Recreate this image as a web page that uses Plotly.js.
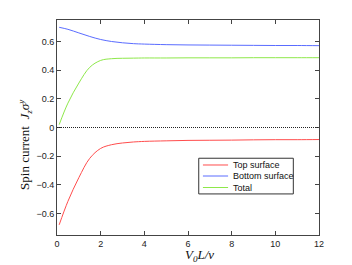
<!DOCTYPE html>
<html>
<head>
<meta charset="utf-8">
<script src="https://cdn.plot.ly/plotly-3.0.1.min.js"></script>
<style>html,body{margin:0;padding:0;background:#fff;}#chart{width:352px;height:265px;}</style>
</head>
<body>
<div id="chart"></div>
<script>
const xVals = [0.1, 0.5, 1, 1.5, 2, 2.5, 3, 3.5, 4, 5, 6, 7, 8, 9, 10, 11, 12];
const topSurface = [-0.679, -0.515, -0.35, -0.215, -0.146, -0.12, -0.108, -0.101, -0.097, -0.093, -0.090, -0.089, -0.088, -0.086, -0.085, -0.085, -0.084];
const bottomSurface = [0.699, 0.685, 0.660, 0.635, 0.614, 0.600, 0.591, 0.585, 0.582, 0.578, 0.576, 0.575, 0.574, 0.573, 0.572, 0.572, 0.571];
const total = [0.02, 0.17, 0.31, 0.42, 0.468, 0.480, 0.483, 0.484, 0.485, 0.485, 0.486, 0.486, 0.486, 0.487, 0.487, 0.487, 0.487];
const seriesNames = ["Top surface", "Bottom surface", "Total"];
const seriesColors = ['#ff4d4d', '#5a6cff', '#8ee84a'];
const xTicks = [0, 2, 4, 6, 8, 10, 12];
const yTicks = [-0.6, -0.4, -0.2, 0, 0.2, 0.4, 0.6];

const mk = (y, i) => ({
  x: xVals, y: y, name: seriesNames[i], type: 'scatter', mode: 'lines', showlegend: false,
  line: {color: seriesColors[i], width: 1, shape: 'spline', smoothing: 1}
});

const data = [mk(topSurface, 0), mk(bottomSurface, 1), mk(total, 2)];

const axisCommon = {
  showgrid: false, zeroline: false, showline: true, linecolor: '#444', linewidth: 1,
  mirror: 'ticks', ticks: 'inside', ticklen: 4, tickcolor: '#444',
  tickfont: {family: 'Liberation Sans, Arial, sans-serif', size: 9, color: '#222'}
};

// hand-drawn legend box (paper coordinates)
const legBox = {x0: 0.541, x1: 0.902, y0: 0.191, y1: 0.357};
const legRows = [0.3256, 0.2744, 0.2209];
const shapes = [
  {type: 'line', xref: 'paper', yref: 'y', x0: 0, x1: 1, y0: 0, y1: 0,
   line: {color: '#222', width: 1, dash: '1px,1px'}},
  {type: 'rect', xref: 'paper', yref: 'paper', x0: legBox.x0, x1: legBox.x1, y0: legBox.y0, y1: legBox.y1,
   fillcolor: '#fff', line: {color: '#333', width: 1}, layer: 'above'}
];
const annotations = [
  {text: 'Spin current  <i>J<sub>z</sub>σ<sup>y</sup></i>', xref: 'paper', yref: 'paper',
   x: -0.125, y: 0.42, xanchor: 'center', yanchor: 'middle', textangle: -90, showarrow: false,
   font: {family: 'Liberation Serif, Times New Roman, serif', size: 13, color: '#111'}},
  {text: '<i>V<sub>0</sub>L/v</i>', xref: 'paper', yref: 'paper',
   x: 0.545, y: -0.094, xanchor: 'center', yanchor: 'middle', showarrow: false, borderpad: 0,
   font: {family: 'Liberation Serif, Times New Roman, serif', size: 13, color: '#111'}}
];
seriesNames.forEach((name, i) => {
  shapes.push({type: 'line', xref: 'paper', yref: 'paper', x0: 0.557, x1: 0.653,
    y0: legRows[i], y1: legRows[i], line: {color: seriesColors[i], width: 1}, layer: 'above'});
  annotations.push({text: name, xref: 'paper', yref: 'paper', x: 0.666, y: legRows[i],
    xanchor: 'left', yanchor: 'middle', showarrow: false,
    font: {family: 'Liberation Sans, Arial, sans-serif', size: 9, color: '#111'}});
});

const layout = {
  width: 352, height: 265,
  margin: {l: 57, r: 33, t: 20, b: 30},
  paper_bgcolor: '#fff', plot_bgcolor: '#fff',
  xaxis: Object.assign({}, axisCommon, {range: [0, 12], tickvals: xTicks, ticktext: xTicks.map(String)}),
  yaxis: Object.assign({}, axisCommon, {range: [-0.75, 0.75], tickvals: yTicks, ticktext: yTicks.map(v => v === 0 ? '0' : (v < 0 ? '\u22120' + (-v).toFixed(1).slice(1) : v.toFixed(1)))}),
  showlegend: false,
  shapes: shapes,
  annotations: annotations
};

Plotly.newPlot('chart', data, layout, {displayModeBar: false, staticPlot: true});
</script>
</body>
</html>
